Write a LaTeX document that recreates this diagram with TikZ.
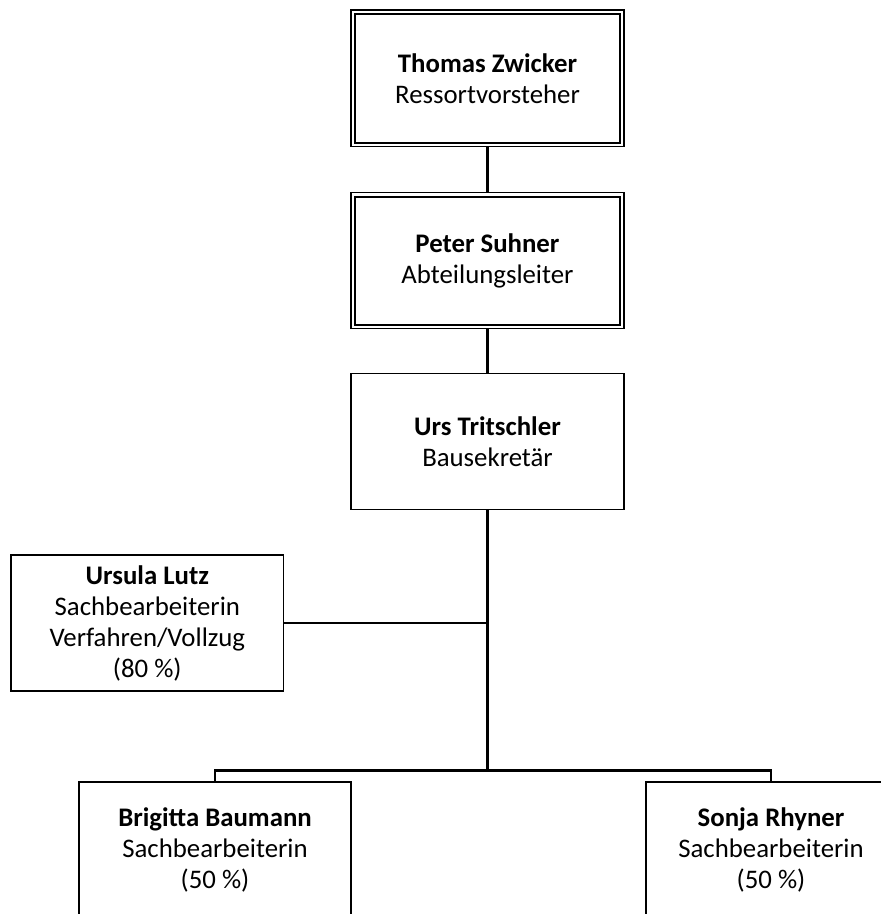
\documentclass[tikz,border=0pt]{standalone}
\usepackage{fontspec}
\setmainfont{Carlito}
\usetikzlibrary{calc}
\begin{document}
\begin{tikzpicture}[x=1pt,y=-1pt,
  box/.style={draw=black, line width=1.4pt, fill=white, align=center, inner sep=0pt,
    font=\fontsize{26.8}{31}\selectfont},
  conn/.style={draw=black, line width=2.8pt},
  inner/.style={draw=black, line width=2pt}]
\useasboundingbox (0,0) rectangle (881,914);
\clip (0,0) rectangle (881,914);
\fill[white] (0,0) rectangle (881,914);

\node[box, minimum width=273, minimum height=136.7] (tz) at (487.5,78.3) {\textbf{Thomas Zwicker}\\Ressortvorsteher};
\node[box, minimum width=273, minimum height=136] (ps) at (487.5,260.7) {\textbf{Peter Suhner}\\Abteilungsleiter};
\node[box, minimum width=273, minimum height=136] (ut) at (487.5,441.3) {\textbf{Urs Tritschler}\\Bausekretär};
\node[box, minimum width=272.7, minimum height=136] (ul) at (147.3,623) {\textbf{Ursula Lutz}\\Sachbearbeiterin\\Verfahren/Vollzug\\(80~\%)};
\node[box, minimum width=272, minimum height=136] (bb) at (215,850) {\textbf{Brigitta Baumann}\\Sachbearbeiterin\\(50~\%)};
\node[box, minimum width=250, minimum height=136] (sr) at (771,850) {\textbf{Sonja Rhyner}\\Sachbearbeiterin\\(50~\%)};

\draw[inner] ($(tz.north west)+(4.7,4.7)$) rectangle ($(tz.south east)+(-4.7,-4.7)$);
\draw[inner] ($(ps.north west)+(4.7,4.7)$) rectangle ($(ps.south east)+(-4.7,-4.7)$);

\coordinate (bus) at (487.5,770.5);
\draw[conn] (tz.south) -- (ps.north);
\draw[conn] (ps.south) -- (ut.north);
\draw[conn] (ut.south) -- (bus);
\draw[conn] (ul.east) -- (ul.east -| ut.south);
\draw[conn] (bb.north) -- (bb.north |- bus) -- (sr.north |- bus) -- (sr.north);
\end{tikzpicture}
\end{document}
